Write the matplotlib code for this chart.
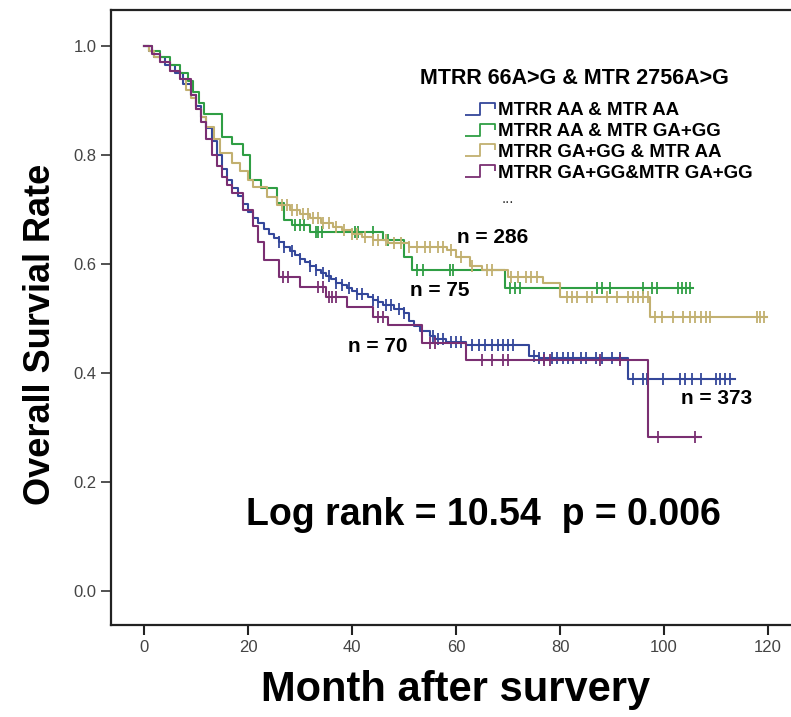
import numpy as np
import matplotlib
matplotlib.use("Agg")
import matplotlib.pyplot as plt
from matplotlib.path import Path
from matplotlib.lines import Line2D

plt.rcParams['font.family'] = ['Liberation Sans', 'DejaVu Sans']

# Kaplan-Meier steps (time in months, survival)
blue_t = [0, 1, 2, 4, 6, 7.5, 9, 10, 11, 12, 13, 14, 15, 16, 17, 18, 19, 20, 21, 22, 23, 24, 25, 26,
          27, 28, 29, 30, 31, 32, 33, 34, 35, 36, 37, 38, 39, 40, 41, 43, 44, 45, 46, 48, 50, 51,
          52, 53, 55, 56, 58, 62, 74, 76, 93, 113.7]
blue_s = [1.0, 0.99, 0.98, 0.965, 0.95, 0.93, 0.91, 0.89, 0.87, 0.85, 0.825, 0.80, 0.775, 0.755,
          0.74, 0.725, 0.71, 0.695, 0.685, 0.675, 0.665, 0.655, 0.648, 0.64, 0.632, 0.624, 0.617,
          0.61, 0.603, 0.597, 0.59, 0.584, 0.578, 0.572, 0.566, 0.561, 0.556, 0.55, 0.545, 0.54,
          0.535, 0.53, 0.525, 0.518, 0.51, 0.496, 0.486, 0.478, 0.468, 0.462, 0.457, 0.451, 0.432,
          0.427, 0.39, 0.39]
blue_cens = [26, 27, 28.5, 30, 32, 33, 34.5, 35.5, 37, 38, 39.5, 41, 42, 44, 45, 46.5, 47.5, 49, 50,
             55.5, 56.5, 57.5, 59, 60, 61, 63, 64.5, 65.5, 67, 68, 69, 70, 71, 75, 76, 77, 78.5,
             79.5, 80.5, 81.5, 82.5, 84, 85, 87, 88, 90, 91.5, 94, 96, 96.7, 99.8, 103, 104, 105.4,
             107, 110, 110.8, 111.7, 112.7]

green_t = [0, 1.5, 3, 5, 7, 8.5, 9.5, 10.5, 11.5, 15, 17, 19, 20.4, 22.5, 25.5, 27, 28.5, 32, 46,
           50, 51.5, 69.5, 105.6]
green_s = [1.0, 0.99, 0.98, 0.965, 0.95, 0.935, 0.915, 0.895, 0.875, 0.833, 0.82, 0.80, 0.755,
           0.74, 0.712, 0.68, 0.672, 0.659, 0.644, 0.613, 0.589, 0.556, 0.556]
green_cens = [29, 30, 30.7, 33, 33.5, 34.2, 40.6, 41.2, 44, 47, 52.5, 53.7, 58.8, 59.4, 70.4, 71.3,
              72.3, 87.1, 88, 89.6, 96, 97.7, 98.7, 102.7, 103.5, 104.2, 105]

tan_t = [0, 1, 2, 3, 5, 7, 8, 9, 10, 11, 12, 13.5, 14.6, 17, 18.5, 20, 21, 23.6, 25.6, 28, 30, 32,
         34, 36.3, 38, 40, 42, 44, 47, 51, 58.2, 60, 62.7, 65, 70, 76.7, 80, 97.3, 119.8]
tan_s = [1.0, 0.99, 0.98, 0.97, 0.955, 0.94, 0.92, 0.905, 0.885, 0.87, 0.851, 0.83, 0.803, 0.785,
         0.77, 0.755, 0.741, 0.723, 0.708, 0.70, 0.692, 0.684, 0.676, 0.668, 0.662, 0.656, 0.65,
         0.644, 0.638, 0.631, 0.625, 0.613, 0.597, 0.589, 0.576, 0.565, 0.54, 0.503, 0.503]
tan_cens = [26.5, 27.5, 28.5, 29.5, 30.5, 31.5, 32.5, 33.5, 34.5, 35.5, 37, 38.5, 40, 41, 42.5, 44,
            45, 46.5, 48, 49.5, 51, 52.5, 54, 55, 56.5, 57.5, 59, 61, 63, 66, 67, 70.5, 72, 73.5,
            74.5, 75.5, 81.3, 82.3, 83.3, 85.2, 86.2, 89, 91, 93, 94, 95, 96, 97, 98.3, 99.6, 101.7,
            103.7, 105, 106, 107, 108, 108.8, 117.9, 118.5, 119.2]

purple_t = [0, 1.5, 3, 5, 7, 9, 10, 11, 12, 13, 14, 15, 16, 17, 19, 21, 22, 23, 26, 30, 35, 39, 44,
            47, 53.5, 62, 97, 107]
purple_s = [1.0, 0.985, 0.97, 0.955, 0.94, 0.91, 0.885, 0.86, 0.83, 0.80, 0.78, 0.76, 0.745, 0.73,
            0.70, 0.67, 0.64, 0.607, 0.576, 0.558, 0.54, 0.521, 0.503, 0.488, 0.455, 0.424, 0.283,
            0.283]
purple_cens = [26.7, 27.7, 33.5, 34.5, 35.5, 36.2, 37, 45, 46, 55, 56, 65, 67, 69, 70, 77, 78,
               87.7, 91.5, 98.8, 106]

labels = ['MTRR AA & MTR AA', 'MTRR AA & MTR GA+GG', 'MTRR GA+GG & MTR AA', 'MTRR GA+GG&MTR GA+GG']
colors = ['#34479a', '#2f9e44', '#c2b070', '#7a2f72']
n_labels = ['n = 373', 'n = 75', 'n = 286', 'n = 70']
n_pos = [(110, 0.354), (56.9, 0.552), (67.1, 0.648), (45, 0.448)]

curves = [(blue_t, blue_s, blue_cens), (green_t, green_s, green_cens),
          (tan_t, tan_s, tan_cens), (purple_t, purple_s, purple_cens)]

fig = plt.figure(figsize=(7.91, 7.17), dpi=100)
ax = fig.add_axes([111/791, 92/717, 680/791, 615/717])

for (t, s, c), col in zip(curves, colors):
    t = np.array(t); s = np.array(s); c = np.array(c)
    ax.step(t, s, where='post', color=col, lw=1.5)
    idx = np.searchsorted(t, c, side='right') - 1
    ax.plot(c, s[idx], ls='none', marker='|', ms=8, mew=1.3, color=col)

for txt, (x, y) in zip(n_labels, n_pos):
    ax.text(x, y, txt, ha='center', va='center', fontsize=15, fontweight='bold')

ax.text(65.3, 0.139, 'Log rank = 10.54  p = 0.006', ha='center', va='center',
        fontsize=27, fontweight='bold')

# legend
ax.text(53.1, 0.941, 'MTRR 66A>G & MTR 2756A>G', ha='left', va='center',
        fontsize=15.5, fontweight='bold')
step_icon = Path([(-1, -0.4), (0, -0.4), (0, 0.4), (1, 0.4), (1, 0)],
                 [Path.MOVETO, Path.LINETO, Path.LINETO, Path.LINETO, Path.LINETO])
handles = [Line2D([], [], ls='none', marker=step_icon, ms=22, mfc='none', mec=col, mew=1.3)
           for col in colors]
ax.legend(handles, labels, loc='upper left', bbox_to_anchor=(62.3, 0.897),
          bbox_transform=ax.transData, frameon=False, prop={'weight': 'bold', 'size': 13.5},
          handlelength=1.3, handletextpad=0.3, labelspacing=0.2, borderpad=0, borderaxespad=0)
ax.text(68.8, 0.72, '...', ha='left', va='center', fontsize=11, color='#333333')

ax.set_xlim(-6.35, 124.4)
ax.set_ylim(-0.062, 1.066)
ax.set_xticks(np.arange(0, 121, 20))
ax.set_yticks(np.arange(0, 1.01, 0.2))
ax.set_yticklabels(['%.1f' % v for v in np.arange(0, 1.01, 0.2)])
ax.tick_params(axis='both', direction='out', length=7, width=1.5, labelsize=12,
               labelcolor='#444444', colors='#222222')
ax.tick_params(axis='y', width=1.1)
for sp in ['left', 'bottom', 'top']:
    ax.spines[sp].set_linewidth(1.6)
    ax.spines[sp].set_color('#222222')
ax.spines['right'].set_visible(False)

ax.set_xlabel('Month after survery', fontsize=30, fontweight='bold')
ax.xaxis.label.set_va('center')
ax.xaxis.set_label_coords(0.506, -0.106)
ax.set_ylabel('Overall Survial Rate', fontsize=26, fontweight='bold')
ax.yaxis.label.set_va('center')
ax.yaxis.set_label_coords(-0.104, 0.473)

fig.savefig('out.png', dpi=100)
